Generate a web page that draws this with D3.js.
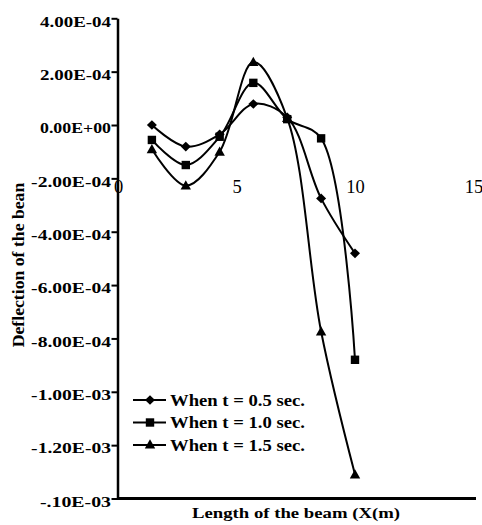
<!DOCTYPE html>
<html>
<head>
<meta charset="utf-8">
<script src="https://cdn.jsdelivr.net/npm/d3@7"></script>
</head>
<body style="margin:0">
<svg id="chart" width="482" height="525" style="display:block"></svg>
<script>
// ---- data ----
const xValues = [1.43, 2.86, 4.29, 5.71, 7.14, 8.57, 10];
const t05 = [-0.02e-5, -8.1e-5, -3.5e-5, 7.9e-5, 2.9e-5, -27.5e-5, -48.1e-5];
const t10 = [-5.6e-5, -15.0e-5, -4.4e-5, 15.8e-5, 2.2e-5, -5.0e-5, -88.0e-5];
const t15 = [-9.1e-5, -22.7e-5, -10.0e-5, 23.6e-5, 2.6e-5, -77.4e-5, -131.0e-5];
const seriesNames = ["When t = 0.5 sec.", "When t = 1.0 sec.", "When t = 1.5 sec."];
const seriesShapes = ["diamond", "square", "triangle"];
const yTickValues = [4e-4, 2e-4, 0, -2e-4, -4e-4, -6e-4, -8e-4, -1e-3, -1.2e-3, -1.4e-3];
const yTickLabels = ["4.00E-04", "2.00E-04", "0.00E+00", "-2.00E-04", "-4.00E-04", "-6.00E-04", "-8.00E-04", "-1.00E-03", "-1.20E-03", "-.10E-03"];
const xTickValues = [0, 5, 10, 15];
const xTitle = "Length of the beam (X(m)";
const yTitle = "Deflection of the bean";

const seriesValues = [t05, t10, t15];
const FONT = "Liberation Serif";

const svg = d3.select("#chart");
const x = d3.scaleLinear().domain([0, 15]).range([118, 473.5]);
const y = d3.scaleLinear().domain([-1.4e-3, 4e-4]).range([498.5, 18.3]);

// ---- y axis ----
const yAxis = d3.axisLeft(y)
  .tickValues(yTickValues)
  .tickFormat((d, i) => yTickLabels[i])
  .tickSizeInner(6).tickSizeOuter(0);
const gy = svg.append("g").attr("transform", "translate(117.5,0)").call(yAxis)
  .attr("font-family", FONT).attr("font-size", 15);
gy.select(".domain").attr("stroke", "#000").attr("stroke-width", 2.5);
gy.selectAll(".tick line").attr("stroke", "#000").attr("stroke-width", 2);
gy.selectAll(".tick text")
  .attr("x", -6.5).attr("y", 7.8).attr("dy", null)
  .attr("text-anchor", "end")
  .attr("font-family", FONT)
  .attr("font-size", 15).attr("font-weight", "bold")
  .attr("lengthAdjust", "spacingAndGlyphs")
  .attr("textLength", d => 71 * yTickLabels[yTickValues.indexOf(d)].length / 8);

// ---- bottom axis line (no ticks) ----
const xAxisBottom = d3.axisBottom(x).tickValues([]).tickSizeOuter(0);
const gb = svg.append("g").attr("transform", "translate(0,498.5)").call(xAxisBottom);
gb.select(".domain").attr("stroke", "#000").attr("stroke-width", 3)
  .attr("d", "M" + (x(0) - 1) + ",0H" + (x(15) + 2.5));

// ---- x tick labels (axis crossing at -2E-04, line hidden) ----
const xAxis = d3.axisBottom(x).tickValues(xTickValues).tickFormat(d3.format("d")).tickSize(0);
const gx = svg.append("g").attr("transform", "translate(0," + y(-2e-4) + ")").call(xAxis)
  .attr("font-family", FONT).attr("font-size", 18.5);
gx.select(".domain").remove();
gx.selectAll(".tick text")
  .attr("y", 14.5).attr("dy", null)
  .attr("font-family", FONT)
  .attr("font-size", 18.5).attr("font-weight", "normal");

// ---- series ----
const line = d3.line().x(d => x(d[0])).y(d => y(d[1])).curve(d3.curveCatmullRom.alpha(0.5));

function markerPath(shape) {
  if (shape === "diamond") return "M0,-4.8L5,0L0,4.8L-5,0Z";
  if (shape === "square") return "M-4.2,-4.2H4.2V4.2H-4.2Z";
  return "M0,-5.2L5.2,4L-5.2,4Z";
}

seriesValues.forEach((vals, s) => {
  const pts = xValues.map((xv, i) => [xv, vals[i]]);
  svg.append("path").datum(pts)
    .attr("d", line)
    .attr("fill", "none").attr("stroke", "#000").attr("stroke-width", 2);
  svg.append("g").selectAll("path").data(pts).join("path")
    .attr("d", markerPath(seriesShapes[s]))
    .attr("transform", d => "translate(" + x(d[0]) + "," + y(d[1]) + ")")
    .attr("fill", "#000");
});

// ---- legend ----
seriesNames.forEach((name, i) => {
  const cy = 400 + i * 22.5;
  svg.append("line").attr("x1", 133).attr("x2", 166).attr("y1", cy).attr("y2", cy)
    .attr("stroke", "#000").attr("stroke-width", 2);
  svg.append("path").attr("d", markerPath(seriesShapes[i]))
    .attr("transform", "translate(150," + (cy + (seriesShapes[i] === "triangle" ? -0.5 : 0)) + ")")
    .attr("fill", "#000");
  svg.append("text").text(name)
    .attr("x", 170).attr("y", cy + 5.6)
    .attr("font-family", FONT)
    .attr("font-size", 16).attr("font-weight", "bold")
    .attr("lengthAdjust", "spacingAndGlyphs")
    .attr("textLength", 135);
});

// ---- axis titles ----
svg.append("text").text(xTitle)
  .attr("x", 192).attr("y", 518)
  .attr("font-family", FONT)
  .attr("font-size", 15).attr("font-weight", "bold")
  .attr("lengthAdjust", "spacingAndGlyphs")
  .attr("textLength", 208);

svg.append("text").text(yTitle)
  .attr("font-family", FONT)
  .attr("font-size", 17.7).attr("font-weight", "bold")
  .attr("text-anchor", "middle")
  .attr("transform", "translate(24,265) rotate(-90)");
</script>
</body>
</html>
